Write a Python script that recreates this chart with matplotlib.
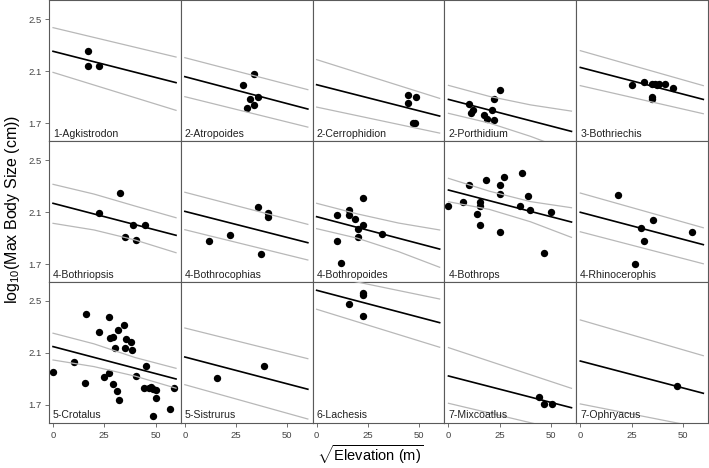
import matplotlib
matplotlib.use("Agg")
import matplotlib.pyplot as plt
import numpy as np

plt.rcParams['font.family'] = ['Liberation Sans', 'DejaVu Sans']
plt.rcParams['mathtext.fontset'] = 'custom'
plt.rcParams['mathtext.rm'] = 'Liberation Sans'
plt.rcParams['mathtext.it'] = 'Liberation Sans:italic'

# genus panels, in reading order
genera = ['1-Agkistrodon', '2-Atropoides', '2-Cerrophidion', '2-Porthidium', '3-Bothriechis',
          '4-Bothriopsis', '4-Bothrocophias', '4-Bothropoides', '4-Bothrops', '4-Rhinocerophis',
          '5-Crotalus', '5-Sistrurus', '6-Lachesis', '7-Mixcoatlus', '7-Ophryacus']

# sqrt(elevation) of each species
elev = [
    [17.3, 17.3, 22.4],
    [28.5, 33.7, 31.6, 35.9, 30.3, 33.6],
    [44.8, 48.5, 44.6, 47.0, 48.0],
    [25.0, 22.1, 10.0, 11.9, 11.1, 21.2, 17.2, 18.6, 22.2],
    [25.2, 31.2, 34.9, 36.4, 38.2, 41.5, 45.1, 34.9, 34.9, 37.6],
    [22.3, 32.5, 38.8, 44.7, 35.2, 40.6],
    [11.7, 22.2, 35.7, 40.4, 40.6, 37.2],
    [22.5, 10.1, 15.8, 15.8, 18.8, 22.5, 20.0, 20.0, 31.7, 10.1, 11.8],
    [0.0, 6.9, 9.8, 18.5, 15.5, 15.5, 13.9, 15.5, 25.3, 27.1, 25.0, 25.0,
     35.9, 38.6, 35.1, 39.9, 50.2, 46.6],
    [18.4, 35.7, 29.6, 31.2, 26.8, 54.6],
    [16.0, 27.5, 34.8, 22.4, 31.7, 27.6, 29.1, 35.5, 37.9, 30.2, 35.0, 38.4,
     10.3, 0.2, 27.3, 24.7, 45.3, 40.7, 15.5, 29.4, 31.4, 32.4, 44.3, 46.9,
     47.9, 49.0, 50.3, 50.0, 48.9, 57.0, 59.2],
    [15.8, 38.6],
    [16.0, 22.4, 22.4, 22.4],
    [44.3, 46.7, 50.3],
    [47.4],
]

# log10 max body size
size = [
    [2.257, 2.142, 2.142],
    [1.992, 2.080, 1.885, 1.898, 1.818, 1.842],
    [1.915, 1.898, 1.852, 1.698, 1.698],
    [1.957, 1.885, 1.846, 1.798, 1.777, 1.798, 1.759, 1.731, 1.726],
    [1.990, 2.018, 2.003, 2.000, 2.003, 2.000, 1.972, 1.903, 1.882, 1.992],
    [2.092, 2.249, 2.002, 1.997, 1.905, 1.887],
    [1.879, 1.921, 2.136, 2.095, 2.064, 1.779],
    [2.208, 2.075, 2.118, 2.079, 2.044, 2.002, 1.972, 1.905, 1.931, 1.875, 1.705],
    [2.149, 2.179, 2.305, 2.346, 2.177, 2.146, 2.082, 2.000, 2.305, 2.367, 2.238, 1.948,
     2.402, 2.225, 2.148, 2.115, 2.100, 1.787],
    [2.233, 2.036, 1.977, 1.877, 1.700, 1.946],
    [2.402, 2.374, 2.315, 2.259, 2.279, 2.213, 2.223, 2.210, 2.182, 2.138, 2.136, 2.125,
     2.028, 1.956, 1.948, 1.915, 2.002, 1.921, 1.867, 1.862, 1.805, 1.736, 1.833, 1.833,
     1.841, 1.825, 1.818, 1.756, 1.613, 1.669, 1.833],
    [1.905, 2.002],
    [2.477, 2.382, 2.562, 2.545],
    [1.759, 1.710, 1.710],
    [1.846],
]

# fitted line at sqrt(elev) = 0 and 60
fit = [
    [2.252, 2.011], [2.057, 1.808], [1.995, 1.754], [1.882, 1.636], [2.128, 1.882],
    [2.167, 1.921], [2.105, 1.864], [2.064, 1.815], [2.269, 2.023], [2.098, 1.849],
    [2.149, 1.900], [2.069, 1.821], [2.582, 2.333], [1.923, 1.679], [2.038, 1.790],
]

# upper / lower grey curves, read at evenly spaced points from 0 to 60
upper = [
    [2.434, 2.208], [2.203, 1.957], [2.188, 1.890], [1.990, 1.905, 1.840, 1.792], [2.257, 1.988],
    [2.313, 2.238, 2.146, 2.056], [2.252, 2.005], [2.167, 2.085, 2.015, 1.962],
    [2.359, 2.260, 2.180, 2.133], [2.246, 1.979],
    [2.252, 2.170, 2.065, 1.982], [2.292, 2.056], [2.710, 2.515], [2.141, 1.828], [2.354, 2.079],
]
lower = [
    [2.090, 1.798], [1.903, 1.669], [1.823, 1.623], [1.775, 1.700, 1.598, 1.480], [1.988, 1.772],
    [2.013, 1.962, 1.885, 1.787], [1.964, 1.731], [1.972, 1.898, 1.795, 1.675],
    [2.179, 2.120, 2.025, 1.905], [1.948, 1.702],
    [2.046, 1.995, 1.922, 1.829], [1.856, 1.592], [2.436, 2.144], [1.713, 1.489], [1.708, 1.522],
]

fig, axes = plt.subplots(3, 5, figsize=(7.09, 4.68), dpi=100, sharex=True, sharey=True)
fig.subplots_adjust(left=0.069, right=0.9986, top=0.999, bottom=0.0955, wspace=0, hspace=0)

for i, ax in enumerate(axes.flat):
    ax.scatter(elev[i], size[i], s=28, color='black', linewidths=0, zorder=2)
    ax.plot(np.linspace(0, 60, len(upper[i])), upper[i], color='#b8b8b8', lw=0.9, zorder=3)
    ax.plot(np.linspace(0, 60, len(lower[i])), lower[i], color='#b8b8b8', lw=0.9, zorder=3)
    ax.plot([0, 60], fit[i], color='black', lw=1.2, zorder=4)
    ax.text(0.03, 0.02, genera[i], transform=ax.transAxes, fontsize=7.6,
            color='#222222', ha='left', va='bottom')
    for sp in ax.spines.values():
        sp.set_color('#5a5a5a')
        sp.set_linewidth(0.8)
    ax.tick_params(length=3, width=0.6, color='#5a5a5a', labelsize=6.8,
                   labelcolor='#444444', pad=2.5)
    if i % 5 != 0:
        ax.tick_params(left=False)
    if i < 10:
        ax.tick_params(bottom=False)

ax = axes[0, 0]
ax.set_xlim(-2, 62.3)
ax.set_ylim(1.559, 2.643)
ax.set_xticks([0, 25, 50])
ax.set_yticks([1.7, 2.1, 2.5])

fig.text(0.018, 0.553, r'log$_{10}$(Max Body Size (cm))', rotation=90,
         ha='center', va='center', fontsize=11.5)
fig.text(0.522, 0.028, r'$\sqrt{\mathrm{Elevation\ (m)}}$', ha='center', va='center',
         fontsize=10.5)

fig.savefig('out.png', dpi=100)
